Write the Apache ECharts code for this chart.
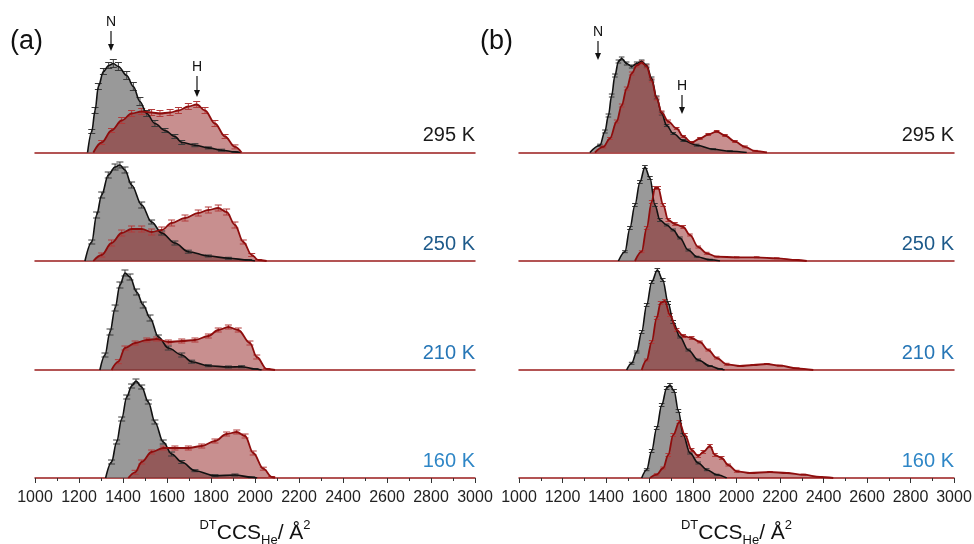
<!DOCTYPE html>
<html>
<head>
<meta charset="utf-8">
<script src="https://cdn.jsdelivr.net/npm/echarts@6/dist/echarts.min.js"></script>
<style>html,body{margin:0;padding:0;background:#fff}#c{width:974px;height:544px}</style>
</head>
<body>
<div id="c"></div>
<script>
// ---- data: [CCS (Å²), normalized intensity, error] ----
const xTicks = [1000,1200,1400,1600,1800,2000,2200,2400,2600,2800,3000];
const temps = ['295 K','250 K','210 K','160 K'];

const a295Gray = [[1239,0,0],[1258,0.21,0.02],[1273,0.42,0.03],[1288,0.66,0.03],[1311,0.81,0.03],[1335,0.87,0.03],[1356,0.89,0.04],[1379,0.86,0.04],[1417,0.77,0.04],[1447,0.66,0.04],[1477,0.51,0.04],[1508,0.39,0.03],[1545,0.29,0.03],[1591,0.22,0.02],[1636,0.16,0.02],[1667,0.10,0.02],[1727,0.073,0.015],[1788,0.046,0.01],[1848,0.023,0.01],[1909,0.006,0.005],[1935,0,0]];
const a295Red = [[1265,0,0],[1303,0.10,0.02],[1348,0.22,0.02],[1394,0.32,0.03],[1439,0.39,0.03],[1485,0.41,0.03],[1530,0.40,0.03],[1568,0.39,0.03],[1614,0.40,0.03],[1652,0.42,0.03],[1697,0.46,0.03],[1735,0.48,0.03],[1773,0.42,0.03],[1818,0.29,0.03],[1864,0.16,0.02],[1909,0.056,0.02],[1939,0,0]];
const a250Gray = [[1227,0,0],[1258,0.19,0.02],[1280,0.46,0.03],[1303,0.66,0.03],[1333,0.86,0.03],[1364,0.94,0.03],[1386,0.96,0.03],[1409,0.91,0.03],[1439,0.76,0.03],[1485,0.56,0.03],[1530,0.39,0.02],[1576,0.28,0.02],[1636,0.18,0.02],[1697,0.093,0.015],[1788,0.05,0.01],[1879,0.027,0.01],[1970,0.01,0.005],[2000,0,0]];
const a250Red = [[1265,0,0],[1303,0.06,0.02],[1348,0.18,0.03],[1394,0.28,0.03],[1439,0.32,0.03],[1485,0.32,0.03],[1530,0.29,0.03],[1576,0.31,0.03],[1621,0.38,0.03],[1682,0.43,0.03],[1742,0.48,0.03],[1788,0.51,0.03],[1833,0.53,0.03],[1871,0.49,0.03],[1909,0.36,0.03],[1947,0.19,0.02],[1985,0.06,0.015],[2015,0.01,0.005],[2053,0,0]];
const a210Gray = [[1295,0,0],[1318,0.15,0.02],[1341,0.38,0.03],[1364,0.62,0.03],[1386,0.85,0.03],[1409,0.97,0.03],[1432,0.93,0.03],[1462,0.78,0.03],[1492,0.65,0.03],[1523,0.52,0.03],[1561,0.33,0.02],[1606,0.22,0.02],[1667,0.15,0.02],[1712,0.083,0.015],[1788,0.043,0.01],[1879,0.03,0.01],[1939,0.033,0.01],[2000,0.01,0.005],[2030,0,0]];
const a210Red = [[1348,0,0],[1379,0.083,0.02],[1409,0.22,0.02],[1455,0.27,0.02],[1508,0.30,0.02],[1553,0.31,0.02],[1606,0.28,0.02],[1667,0.29,0.02],[1727,0.30,0.02],[1788,0.34,0.02],[1833,0.40,0.02],[1879,0.43,0.02],[1924,0.40,0.02],[1977,0.27,0.02],[2008,0.13,0.02],[2053,0.01,0.005],[2091,0,0]];
const a160Gray = [[1321,0,0],[1348,0.16,0.02],[1371,0.36,0.02],[1394,0.59,0.02],[1417,0.81,0.02],[1439,0.92,0.02],[1459,0.97,0.02],[1485,0.91,0.02],[1515,0.76,0.02],[1545,0.56,0.02],[1583,0.36,0.02],[1621,0.24,0.02],[1667,0.16,0.015],[1727,0.073,0.01],[1818,0.023,0.01],[1909,0.03,0.01],[1985,0.007,0.005],[2010,0,0]];
const a160Red = [[1424,0,0],[1455,0.057,0.02],[1485,0.16,0.02],[1530,0.26,0.02],[1583,0.30,0.02],[1636,0.30,0.02],[1697,0.30,0.02],[1758,0.32,0.02],[1818,0.37,0.02],[1871,0.44,0.02],[1917,0.46,0.02],[1955,0.42,0.02],[1992,0.25,0.02],[2038,0.093,0.015],[2076,0.01,0.005],[2091,0,0]];

const b295Gray = [[1326,0,0],[1372,0.073,0.01],[1395,0.21,0.015],[1411,0.37,0.015],[1426,0.57,0.015],[1441,0.77,0.015],[1457,0.91,0.015],[1472,0.94,0.015],[1495,0.89,0.015],[1518,0.86,0.015],[1541,0.89,0.015],[1564,0.91,0.015],[1587,0.87,0.015],[1610,0.74,0.015],[1633,0.55,0.015],[1656,0.39,0.015],[1679,0.27,0.01],[1709,0.19,0.01],[1755,0.12,0.01],[1817,0.073,0.01],[1893,0.033,0.005],[1970,0.013,0.005],[2047,0,0]];
const b295Red = [[1349,0,0],[1388,0.056,0.01],[1418,0.14,0.01],[1449,0.31,0.015],[1472,0.47,0.015],[1495,0.64,0.015],[1518,0.79,0.015],[1541,0.87,0.015],[1564,0.90,0.015],[1587,0.86,0.015],[1610,0.72,0.015],[1633,0.54,0.015],[1656,0.40,0.015],[1686,0.31,0.015],[1725,0.24,0.01],[1755,0.16,0.01],[1794,0.10,0.01],[1832,0.14,0.01],[1870,0.18,0.01],[1909,0.21,0.01],[1947,0.17,0.01],[1993,0.11,0.01],[2039,0.056,0.01],[2085,0.016,0.005],[2140,0,0]];
const b250Gray = [[1457,0,0],[1487,0.093,0.01],[1510,0.33,0.015],[1533,0.56,0.015],[1556,0.79,0.015],[1579,0.94,0.015],[1602,0.83,0.015],[1625,0.56,0.015],[1648,0.41,0.015],[1679,0.36,0.01],[1709,0.31,0.01],[1740,0.23,0.01],[1778,0.11,0.01],[1817,0.043,0.005],[1878,0.013,0.005],[1924,0,0]];
const b250Red = [[1533,0,0],[1564,0.093,0.01],[1587,0.33,0.015],[1610,0.59,0.015],[1625,0.73,0.015],[1640,0.73,0.015],[1663,0.56,0.015],[1686,0.41,0.015],[1717,0.37,0.015],[1755,0.34,0.015],[1786,0.26,0.01],[1824,0.14,0.01],[1863,0.077,0.01],[1909,0.043,0.005],[2001,0.037,0.005],[2093,0.037,0.005],[2185,0.027,0.005],[2277,0.01,0.005],[2323,0,0]];
const b210Gray = [[1495,0,0],[1518,0.067,0.01],[1541,0.18,0.01],[1564,0.38,0.015],[1587,0.65,0.015],[1610,0.88,0.015],[1636,1.0,0.015],[1661,0.90,0.015],[1686,0.67,0.015],[1709,0.48,0.015],[1740,0.33,0.01],[1778,0.20,0.01],[1824,0.10,0.01],[1878,0.04,0.005],[1924,0.01,0.005],[1945,0,0]];
const b210Red = [[1564,0,0],[1587,0.10,0.01],[1610,0.28,0.015],[1633,0.52,0.015],[1651,0.67,0.015],[1671,0.69,0.015],[1694,0.55,0.015],[1725,0.40,0.015],[1755,0.34,0.015],[1794,0.32,0.015],[1832,0.28,0.01],[1870,0.20,0.01],[1909,0.12,0.01],[1955,0.057,0.01],[2016,0.04,0.005],[2077,0.05,0.005],[2139,0.06,0.005],[2200,0.043,0.005],[2277,0.017,0.005],[2353,0,0]];
const b160Gray = [[1564,0,0],[1587,0.083,0.01],[1610,0.27,0.015],[1633,0.50,0.015],[1656,0.73,0.015],[1679,0.90,0.015],[1694,0.93,0.015],[1713,0.87,0.015],[1733,0.67,0.015],[1755,0.43,0.015],[1786,0.25,0.01],[1824,0.15,0.01],[1863,0.083,0.01],[1909,0.033,0.005],[1955,0,0]];
const b160Red = [[1602,0,0],[1633,0.033,0.01],[1663,0.10,0.01],[1686,0.23,0.015],[1709,0.43,0.015],[1737,0.56,0.015],[1763,0.43,0.015],[1794,0.28,0.015],[1824,0.22,0.015],[1847,0.26,0.015],[1878,0.32,0.015],[1901,0.23,0.015],[1932,0.20,0.015],[1962,0.13,0.01],[2001,0.067,0.01],[2062,0.05,0.005],[2154,0.06,0.005],[2231,0.05,0.005],[2308,0.033,0.005],[2384,0.01,0.005],[2445,0,0]];

const panelA = [[a295Gray,a295Red],[a250Gray,a250Red],[a210Gray,a210Red],[a160Gray,a160Red]];
const panelB = [[b295Gray,b295Red],[b250Gray,b250Red],[b210Gray,b210Red],[b160Gray,b160Red]];

// ---- layout / style ----
const FONT = "'Liberation Sans', Arial, sans-serif";
const baselines = [152.5, 261, 370, 478];
const GH = 105;
const panels = [
  {left: 35, width: 440, data: panelA, cap: 3.5},
  {left: 519, width: 435, data: panelB, cap: 2.8}
];
const tempColors = ['#1a1a1a', '#1d5a8a', '#2676b6', '#2e86c6'];
const GRAY_FILL = 'rgba(105,105,105,0.68)';
const RED_FILL = 'rgba(140,20,20,0.48)';
const RED_LINE = '#8e0d0d';

function errItem(color, cap) {
  return function (params, api) {
    const x = api.value(0), y = api.value(1), e = api.value(2);
    if (!e) return null;
    const p1 = api.coord([x, y + e]), p2 = api.coord([x, y - e]);
    const st = {stroke: color, lineWidth: 1};
    return {type: 'group', children: [
      {type: 'line', shape: {x1: p1[0], y1: p1[1], x2: p2[0], y2: p2[1]}, style: st},
      {type: 'line', shape: {x1: p1[0] - cap, y1: p1[1], x2: p1[0] + cap, y2: p1[1]}, style: st},
      {type: 'line', shape: {x1: p2[0] - cap, y1: p2[1], x2: p2[0] + cap, y2: p2[1]}, style: st}
    ]};
  };
}

const grids = [], xAxes = [], yAxes = [], series = [], graphics = [];
const axisName = '{sup|DT}{n|CCS}{sub|He}{n|/ Å}{sup|2}';

panels.forEach((p, pi) => {
  p.data.forEach((pair, ri) => {
    const gi = grids.length;
    const bottom = ri === 3;
    grids.push({left: p.left, width: p.width, top: baselines[ri] - GH, height: GH,
      containLabel: false, outerBoundsMode: 'none'});
    xAxes.push({
      type: 'value', gridIndex: gi, min: xTicks[0], max: xTicks[xTicks.length - 1], interval: 200,
      axisLine: {show: true, onZero: false, lineStyle: {color: '#9b1c1c', width: 1.5}},
      axisTick: {show: bottom, length: 5, lineStyle: {color: '#333'}},
      minorTick: {show: bottom, splitNumber: 2, length: 3, lineStyle: {color: '#333'}},
      axisLabel: {show: bottom, fontSize: 16, color: '#222', margin: 12, fontFamily: FONT,
        formatter: v => String(v)},
      splitLine: {show: false}, minorSplitLine: {show: false},
      name: bottom ? axisName : '', nameLocation: 'middle', nameGap: 41,
      nameTextStyle: {
        fontFamily: FONT, color: '#111',
        rich: {
          n: {fontSize: 21, fontFamily: FONT, color: '#111', lineHeight: 28, verticalAlign: 'middle'},
          sup: {fontSize: 13, fontFamily: FONT, color: '#111', verticalAlign: 'top', lineHeight: 28},
          sub: {fontSize: 13, fontFamily: FONT, color: '#111', verticalAlign: 'bottom', lineHeight: 28}
        }
      }
    });
    yAxes.push({type: 'value', gridIndex: gi, min: 0, max: 1.05, show: false});
    const [g, r] = pair;
    const common = {xAxisIndex: gi, yAxisIndex: gi, type: 'line', smooth: 0.35, smoothMonotone: 'x',
      showSymbol: false, symbol: 'none', silent: true, animation: false};
    series.push(Object.assign({}, common, {data: g, z: 2, areaStyle: {color: GRAY_FILL, opacity: 1}, lineStyle: {width: 0, opacity: 0}}));
    series.push(Object.assign({}, common, {data: r, z: 3, areaStyle: {color: RED_FILL, opacity: 1}, lineStyle: {width: 0, opacity: 0}}));
    series.push({type: 'custom', xAxisIndex: gi, yAxisIndex: gi, data: g, z: 4, silent: true, animation: false,
      renderItem: errItem('#3a3a3a', p.cap), encode: {x: 0, y: 1}, clip: false});
    series.push({type: 'custom', xAxisIndex: gi, yAxisIndex: gi, data: r, z: 5, silent: true, animation: false,
      renderItem: errItem('#b23a3a', p.cap), encode: {x: 0, y: 1}, clip: false});
    series.push(Object.assign({}, common, {data: g, z: 6, lineStyle: {color: '#111', width: 1.6}}));
    series.push(Object.assign({}, common, {data: r, z: 7, lineStyle: {color: RED_LINE, width: 1.8}}));
    graphics.push({type: 'text', right: 974 - (p.left + p.width), top: baselines[ri] - 27,
      style: {text: temps[ri], fill: tempColors[ri], font: '20px ' + FONT}});
  });
});

function arrow(x, y1, y2) {
  return [
    {type: 'line', shape: {x1: x, y1: y1, x2: x, y2: y2 - 5}, style: {stroke: '#111', lineWidth: 1.2}},
    {type: 'polygon', shape: {points: [[x - 3, y2 - 7], [x + 3, y2 - 7], [x, y2]]}, style: {fill: '#111'}}
  ];
}
graphics.push({type: 'text', left: 10, top: 28, style: {text: '(a)', fill: '#111', font: '27px ' + FONT}});
graphics.push({type: 'text', left: 480, top: 28, style: {text: '(b)', fill: '#111', font: '27px ' + FONT}});
graphics.push({type: 'text', x: 111, y: 22, style: {text: 'N', fill: '#111', font: '14px ' + FONT, align: 'center', verticalAlign: 'middle'}});
graphics.push(...arrow(111, 31, 51));
graphics.push({type: 'text', x: 197, y: 67, style: {text: 'H', fill: '#111', font: '14px ' + FONT, align: 'center', verticalAlign: 'middle'}});
graphics.push(...arrow(197, 76, 97));
graphics.push({type: 'text', x: 598, y: 32, style: {text: 'N', fill: '#111', font: '14px ' + FONT, align: 'center', verticalAlign: 'middle'}});
graphics.push(...arrow(598, 41, 60));
graphics.push({type: 'text', x: 682, y: 86, style: {text: 'H', fill: '#111', font: '14px ' + FONT, align: 'center', verticalAlign: 'middle'}});
graphics.push(...arrow(682, 95, 114));

const chart = echarts.init(document.getElementById('c'), null, {renderer: 'canvas'});
chart.setOption({
  animation: false,
  backgroundColor: '#fff',
  textStyle: {fontFamily: FONT},
  grid: grids, xAxis: xAxes, yAxis: yAxes, series: series,
  graphic: graphics
});
</script>
</body>
</html>
